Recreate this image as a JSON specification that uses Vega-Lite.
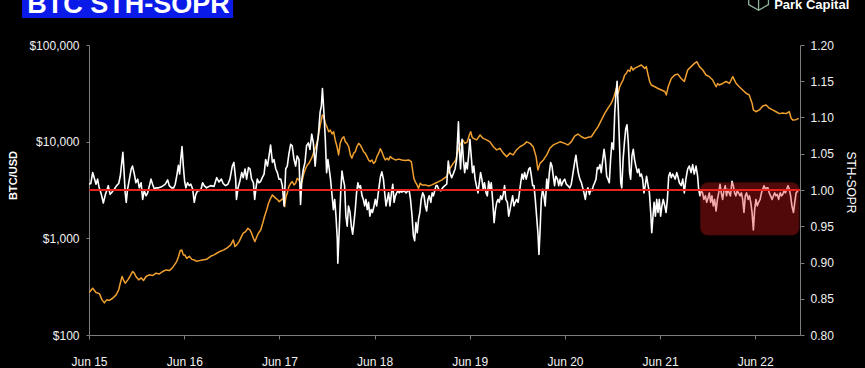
{
  "$schema": "https://vega.github.io/schema/vega-lite/v6.json",
  "background": "#000000",
  "autosize": {"type": "none"},
  "width": 711,
  "height": 290,
  "padding": {"left": 89, "top": 45, "right": 65, "bottom": 33},
  "config": {
    "view": {"stroke": null},
    "font": "Liberation Sans",
    "axis": {"labelColor": "#f2f2f2", "titleColor": "#ffffff", "domainColor": "#7d7d7d", "tickColor": "#7d7d7d", "grid": false, "labelFont": "Liberation Sans", "labelFontSize": 12, "titleFont": "Liberation Sans", "labelOverlap": false}
  },
  "datasets": {
    "hdr": [{"title": "BTC STH-SOPR", "brand": "Park Capital"}],
    "ref": [{"level": 1.0}],
    "box": [{"start": "2021-11-04", "end": "2022-11-16", "lo": 0.938, "hi": 1.01}],
    "btc": [
      {"date":"2015-06-01","price":275},{"date":"2015-06-05","price":282},{"date":"2015-06-15","price":305},{"date":"2015-06-28","price":275},{"date":"2015-07-11","price":268},{"date":"2015-07-21","price":231},{"date":"2015-07-30","price":215},{"date":"2015-08-08","price":231},{"date":"2015-08-18","price":228},{"date":"2015-08-31","price":240},{"date":"2015-09-13","price":260},{"date":"2015-09-23","price":293},{"date":"2015-09-29","price":343},{"date":"2015-10-06","price":403},{"date":"2015-10-11","price":372},{"date":"2015-10-18","price":343},{"date":"2015-10-28","price":372},{"date":"2015-11-05","price":403},{"date":"2015-11-16","price":454},{"date":"2015-11-22","price":436},{"date":"2015-11-28","price":403},{"date":"2015-12-09","price":372},{"date":"2015-12-18","price":390},{"date":"2015-12-27","price":366},
      {"date":"2016-01-06","price":403},{"date":"2016-01-18","price":419},{"date":"2016-01-31","price":412},{"date":"2016-02-13","price":436},{"date":"2016-02-26","price":428},{"date":"2016-03-10","price":454},{"date":"2016-03-23","price":471},{"date":"2016-04-04","price":464},{"date":"2016-04-15","price":492},{"date":"2016-04-24","price":531},{"date":"2016-05-03","price":578},{"date":"2016-05-10","price":652},{"date":"2016-05-16","price":744},{"date":"2016-05-22","price":759},{"date":"2016-05-28","price":674},{"date":"2016-06-03","price":674},{"date":"2016-06-10","price":620},{"date":"2016-06-20","price":652},{"date":"2016-06-30","price":606},{"date":"2016-07-09","price":598},{"date":"2016-07-18","price":578},{"date":"2016-07-28","price":588},{"date":"2016-08-10","price":598},{"date":"2016-08-25","price":606},{"date":"2016-09-10","price":652},{"date":"2016-09-23","price":674},{"date":"2016-10-05","price":705},{"date":"2016-10-18","price":736},{"date":"2016-10-31","price":759},{"date":"2016-11-12","price":795},{"date":"2016-11-26","price":855},{"date":"2016-12-06","price":963},{"date":"2016-12-12","price":822},{"date":"2016-12-19","price":855},{"date":"2016-12-28","price":925},
      {"date":"2017-01-06","price":1040},{"date":"2017-01-13","price":1130},{"date":"2017-01-22","price":1175},{"date":"2017-01-31","price":1270},{"date":"2017-02-08","price":1220},{"date":"2017-02-14","price":1130},{"date":"2017-02-21","price":1000},{"date":"2017-02-27","price":925},{"date":"2017-03-06","price":1040},{"date":"2017-03-12","price":1130},{"date":"2017-03-21","price":1220},{"date":"2017-03-29","price":1440},{"date":"2017-04-05","price":1690},{"date":"2017-04-13","price":1970},{"date":"2017-04-20","price":2310},{"date":"2017-04-28","price":2590},{"date":"2017-05-05","price":2810},{"date":"2017-05-11","price":2700},{"date":"2017-05-18","price":2590},{"date":"2017-05-24","price":2530},{"date":"2017-05-31","price":2390},{"date":"2017-06-08","price":2500},{"date":"2017-06-16","price":2590},{"date":"2017-06-21","price":2130},{"date":"2017-06-26","price":2700},{"date":"2017-07-01","price":2920},{"date":"2017-07-07","price":3420},{"date":"2017-07-14","price":3710},{"date":"2017-07-20","price":3860},{"date":"2017-07-27","price":3570},{"date":"2017-08-02","price":3710},{"date":"2017-08-08","price":4170},{"date":"2017-08-15","price":4020},{"date":"2017-08-22","price":3570},{"date":"2017-08-28","price":4020},{"date":"2017-09-03","price":4720},{"date":"2017-09-10","price":5310},{"date":"2017-09-16","price":5740},{"date":"2017-09-22","price":5960},{"date":"2017-09-29","price":6470},{"date":"2017-10-05","price":7000},{"date":"2017-10-11","price":7870},{"date":"2017-10-18","price":8860},{"date":"2017-10-24","price":9960},{"date":"2017-10-31","price":12680},{"date":"2017-11-06","price":15500},{"date":"2017-11-13","price":18900},{"date":"2017-11-18","price":18240},{"date":"2017-11-24","price":15500},{"date":"2017-11-30","price":14300},{"date":"2017-12-07","price":12680},{"date":"2017-12-13","price":13220},{"date":"2017-12-20","price":12000},{"date":"2017-12-26","price":12680},
      {"date":"2018-01-01","price":10420},{"date":"2018-01-08","price":8860},{"date":"2018-01-14","price":7290},{"date":"2018-01-20","price":9600},{"date":"2018-01-27","price":10800},{"date":"2018-02-03","price":11250},{"date":"2018-02-09","price":9960},{"date":"2018-02-15","price":9600},{"date":"2018-02-22","price":8860},{"date":"2018-02-28","price":7290},{"date":"2018-03-06","price":6750},{"date":"2018-03-13","price":7610},{"date":"2018-03-19","price":7870},{"date":"2018-03-25","price":8860},{"date":"2018-04-01","price":9600},{"date":"2018-04-07","price":9250},{"date":"2018-04-14","price":8540},{"date":"2018-04-20","price":7870},{"date":"2018-04-26","price":7610},{"date":"2018-05-03","price":7000},{"date":"2018-05-09","price":6470},{"date":"2018-05-15","price":6220},{"date":"2018-05-22","price":6470},{"date":"2018-05-28","price":5960},{"date":"2018-06-04","price":6220},{"date":"2018-06-10","price":7000},{"date":"2018-06-17","price":7610},{"date":"2018-06-23","price":8440},{"date":"2018-06-29","price":7870},{"date":"2018-07-06","price":7000},{"date":"2018-07-12","price":6470},{"date":"2018-07-19","price":6750},{"date":"2018-07-25","price":6470},{"date":"2018-07-31","price":7000},{"date":"2018-08-07","price":6750},{"date":"2018-08-20","price":6470},{"date":"2018-09-02","price":6600},{"date":"2018-09-14","price":6470},{"date":"2018-09-27","price":6400},{"date":"2018-10-10","price":6470},{"date":"2018-10-20","price":6220},{"date":"2018-10-25","price":5100},{"date":"2018-10-30","price":4170},{"date":"2018-11-04","price":3860},{"date":"2018-11-11","price":3570},{"date":"2018-11-17","price":3290},{"date":"2018-11-23","price":3710},{"date":"2018-11-30","price":3570},{"date":"2018-12-13","price":3570},{"date":"2018-12-26","price":3480},
      {"date":"2019-01-07","price":3570},{"date":"2019-01-20","price":3710},{"date":"2019-02-02","price":3860},{"date":"2019-02-15","price":4020},{"date":"2019-03-05","price":4380},{"date":"2019-03-18","price":5310},{"date":"2019-03-30","price":5960},{"date":"2019-04-09","price":6470},{"date":"2019-04-18","price":8210},{"date":"2019-04-28","price":9600},{"date":"2019-05-05","price":10420},{"date":"2019-05-14","price":9600},{"date":"2019-05-23","price":9960},{"date":"2019-05-31","price":11730},{"date":"2019-06-05","price":12680},{"date":"2019-06-10","price":11250},{"date":"2019-06-15","price":10800},{"date":"2019-06-28","price":10420},{"date":"2019-07-11","price":11730},{"date":"2019-07-23","price":10800},{"date":"2019-08-05","price":10420},{"date":"2019-08-18","price":9960},{"date":"2019-08-31","price":8860},{"date":"2019-09-13","price":8210},{"date":"2019-09-25","price":8540},{"date":"2019-10-08","price":7610},{"date":"2019-10-21","price":7000},{"date":"2019-11-03","price":7610},{"date":"2019-11-15","price":7290},{"date":"2019-11-28","price":8210},{"date":"2019-12-11","price":8860},{"date":"2019-12-24","price":9250},
      {"date":"2020-01-06","price":9960},{"date":"2020-01-19","price":9600},{"date":"2020-01-31","price":8860},{"date":"2020-02-11","price":7000},{"date":"2020-02-18","price":5100},{"date":"2020-02-26","price":5960},{"date":"2020-03-10","price":6470},{"date":"2020-03-23","price":7290},{"date":"2020-04-04","price":8540},{"date":"2020-04-17","price":9250},{"date":"2020-04-30","price":9600},{"date":"2020-05-13","price":9960},{"date":"2020-05-31","price":9600},{"date":"2020-06-12","price":9250},{"date":"2020-06-25","price":9960},{"date":"2020-07-08","price":11400},{"date":"2020-07-21","price":12000},{"date":"2020-08-03","price":11250},{"date":"2020-08-16","price":10800},{"date":"2020-08-29","price":11100},{"date":"2020-09-10","price":11250},{"date":"2020-09-23","price":12680},{"date":"2020-10-06","price":14300},{"date":"2020-10-19","price":16770},{"date":"2020-10-31","price":19500},{"date":"2020-11-13","price":22200},{"date":"2020-11-26","price":25000},{"date":"2020-12-06","price":29300},{"date":"2020-12-15","price":35500},{"date":"2020-12-22","price":31700},{"date":"2020-12-28","price":37000},
      {"date":"2021-01-03","price":40000},{"date":"2021-01-10","price":43470},{"date":"2021-01-16","price":48950},{"date":"2021-01-22","price":50700},{"date":"2021-01-29","price":55100},{"date":"2021-02-05","price":53200},{"date":"2021-02-10","price":59700},{"date":"2021-02-17","price":55100},{"date":"2021-02-23","price":57300},{"date":"2021-03-08","price":59700},{"date":"2021-03-21","price":62130},{"date":"2021-04-03","price":57300},{"date":"2021-04-09","price":59700},{"date":"2021-04-16","price":48950},{"date":"2021-04-22","price":41900},{"date":"2021-04-28","price":38580},{"date":"2021-05-12","price":37000},{"date":"2021-05-24","price":35500},{"date":"2021-06-06","price":34270},{"date":"2021-06-19","price":33000},{"date":"2021-06-25","price":30420},{"date":"2021-07-02","price":37000},{"date":"2021-07-14","price":45100},{"date":"2021-07-27","price":48950},{"date":"2021-08-08","price":50000},{"date":"2021-08-21","price":45100},{"date":"2021-09-02","price":41900},{"date":"2021-09-15","price":55100},{"date":"2021-09-28","price":59700},{"date":"2021-10-11","price":64600},{"date":"2021-10-20","price":67200},{"date":"2021-10-30","price":59700},{"date":"2021-11-12","price":55100},{"date":"2021-11-24","price":48950},{"date":"2021-12-07","price":47000},{"date":"2021-12-20","price":43470},
      {"date":"2022-01-02","price":37000},{"date":"2022-01-08","price":40000},{"date":"2022-01-14","price":38580},{"date":"2022-01-27","price":40000},{"date":"2022-02-09","price":41900},{"date":"2022-02-22","price":40000},{"date":"2022-03-07","price":47000},{"date":"2022-03-20","price":40000},{"date":"2022-04-01","price":37000},{"date":"2022-04-14","price":34270},{"date":"2022-04-27","price":31700},{"date":"2022-05-09","price":30420},{"date":"2022-05-20","price":25000},{"date":"2022-05-25","price":21290},{"date":"2022-06-04","price":20400},{"date":"2022-06-17","price":21290},{"date":"2022-06-30","price":23400},{"date":"2022-07-13","price":23980},{"date":"2022-07-25","price":22200},{"date":"2022-08-07","price":21290},{"date":"2022-08-20","price":20400},{"date":"2022-09-02","price":19500},{"date":"2022-09-15","price":19800},{"date":"2022-09-27","price":19500},{"date":"2022-10-10","price":20400},{"date":"2022-10-17","price":17500},{"date":"2022-10-23","price":16770},{"date":"2022-11-05","price":16900},{"date":"2022-11-15","price":17400}
    ],
    "sopr": [
      {"date":"2015-06-01","sopr":1.008},{"date":"2015-06-08","sopr":1.009},{"date":"2015-06-15","sopr":1.024},{"date":"2015-06-21","sopr":1.017},{"date":"2015-06-28","sopr":1.008},{"date":"2015-07-04","sopr":1.015},{"date":"2015-07-10","sopr":1.003},{"date":"2015-07-17","sopr":0.996},{"date":"2015-07-26","sopr":0.982},{"date":"2015-08-03","sopr":0.994},{"date":"2015-08-08","sopr":0.999},{"date":"2015-08-14","sopr":1.006},{"date":"2015-08-21","sopr":0.994},{"date":"2015-08-28","sopr":0.997},{"date":"2015-09-06","sopr":1.001},{"date":"2015-09-15","sopr":1.006},{"date":"2015-09-23","sopr":1.009},{"date":"2015-09-29","sopr":1.019},{"date":"2015-10-06","sopr":1.042},{"date":"2015-10-09","sopr":1.052},{"date":"2015-10-13","sopr":1.029},{"date":"2015-10-18","sopr":0.996},{"date":"2015-10-22","sopr":0.983},{"date":"2015-10-27","sopr":1.001},{"date":"2015-11-03","sopr":1.015},{"date":"2015-11-10","sopr":1.029},{"date":"2015-11-15","sopr":1.033},{"date":"2015-11-22","sopr":1.022},{"date":"2015-11-28","sopr":1.01},{"date":"2015-12-05","sopr":1.015},{"date":"2015-12-11","sopr":1.003},{"date":"2015-12-18","sopr":1.01},{"date":"2015-12-24","sopr":0.987},{"date":"2015-12-30","sopr":0.999},
      {"date":"2016-01-06","sopr":0.992},{"date":"2016-01-12","sopr":0.996},{"date":"2016-01-19","sopr":1.006},{"date":"2016-01-25","sopr":1.015},{"date":"2016-01-31","sopr":1.008},{"date":"2016-02-07","sopr":1.001},{"date":"2016-02-13","sopr":1.003},{"date":"2016-02-23","sopr":1.003},{"date":"2016-03-03","sopr":1.004},{"date":"2016-03-12","sopr":1.006},{"date":"2016-03-20","sopr":1.008},{"date":"2016-03-29","sopr":1.014},{"date":"2016-04-04","sopr":1.006},{"date":"2016-04-13","sopr":1.003},{"date":"2016-04-21","sopr":1.003},{"date":"2016-04-27","sopr":1.008},{"date":"2016-05-04","sopr":1.022},{"date":"2016-05-09","sopr":1.034},{"date":"2016-05-14","sopr":1.022},{"date":"2016-05-18","sopr":1.042},{"date":"2016-05-23","sopr":1.06},{"date":"2016-05-28","sopr":1.033},{"date":"2016-06-02","sopr":1.012},{"date":"2016-06-07","sopr":1.003},{"date":"2016-06-13","sopr":1.01},{"date":"2016-06-20","sopr":1.006},{"date":"2016-06-26","sopr":1.008},{"date":"2016-07-03","sopr":1.001},{"date":"2016-07-09","sopr":0.983},{"date":"2016-07-15","sopr":0.994},{"date":"2016-07-22","sopr":0.999},{"date":"2016-07-28","sopr":0.999},{"date":"2016-08-04","sopr":1.001},{"date":"2016-08-10","sopr":1.01},{"date":"2016-08-16","sopr":1.006},{"date":"2016-08-25","sopr":1.003},{"date":"2016-09-10","sopr":1.006},{"date":"2016-09-23","sopr":1.005},{"date":"2016-10-03","sopr":1.017},{"date":"2016-10-12","sopr":1.011},{"date":"2016-10-21","sopr":1.015},{"date":"2016-10-28","sopr":1.009},{"date":"2016-11-06","sopr":1.006},{"date":"2016-11-15","sopr":1.008},{"date":"2016-11-23","sopr":1.015},{"date":"2016-12-02","sopr":1.033},{"date":"2016-12-08","sopr":1.038},{"date":"2016-12-15","sopr":1.015},{"date":"2016-12-18","sopr":0.987},{"date":"2016-12-24","sopr":1.003},{"date":"2016-12-31","sopr":1.012},
      {"date":"2017-01-07","sopr":1.024},{"date":"2017-01-13","sopr":1.017},{"date":"2017-01-20","sopr":1.029},{"date":"2017-01-26","sopr":1.015},{"date":"2017-02-02","sopr":1.031},{"date":"2017-02-08","sopr":1.029},{"date":"2017-02-14","sopr":1.015},{"date":"2017-02-21","sopr":1.01},{"date":"2017-02-26","sopr":0.987},{"date":"2017-03-03","sopr":1.003},{"date":"2017-03-08","sopr":1.015},{"date":"2017-03-14","sopr":1.01},{"date":"2017-03-21","sopr":1.012},{"date":"2017-03-27","sopr":1.017},{"date":"2017-04-03","sopr":1.022},{"date":"2017-04-09","sopr":1.042},{"date":"2017-04-16","sopr":1.033},{"date":"2017-04-22","sopr":1.047},{"date":"2017-04-28","sopr":1.062},{"date":"2017-05-05","sopr":1.038},{"date":"2017-05-11","sopr":1.042},{"date":"2017-05-18","sopr":1.029},{"date":"2017-05-24","sopr":1.024},{"date":"2017-05-30","sopr":1.015},{"date":"2017-06-06","sopr":1.015},{"date":"2017-06-12","sopr":1.006},{"date":"2017-06-19","sopr":0.978},{"date":"2017-06-25","sopr":1.029},{"date":"2017-07-01","sopr":1.033},{"date":"2017-07-07","sopr":1.049},{"date":"2017-07-14","sopr":1.063},{"date":"2017-07-20","sopr":1.061},{"date":"2017-07-27","sopr":1.042},{"date":"2017-08-02","sopr":1.033},{"date":"2017-08-08","sopr":1.047},{"date":"2017-08-15","sopr":1.042},{"date":"2017-08-21","sopr":0.98},{"date":"2017-08-26","sopr":1.015},{"date":"2017-09-01","sopr":1.029},{"date":"2017-09-07","sopr":1.038},{"date":"2017-09-13","sopr":1.061},{"date":"2017-09-20","sopr":1.065},{"date":"2017-09-26","sopr":1.056},{"date":"2017-10-03","sopr":1.077},{"date":"2017-10-09","sopr":1.065},{"date":"2017-10-16","sopr":1.033},{"date":"2017-10-22","sopr":1.058},{"date":"2017-10-28","sopr":1.074},{"date":"2017-11-04","sopr":1.107},{"date":"2017-11-09","sopr":1.116},{"date":"2017-11-13","sopr":1.14},{"date":"2017-11-18","sopr":1.111},{"date":"2017-11-24","sopr":1.07},{"date":"2017-11-29","sopr":1.024},{"date":"2017-12-04","sopr":1.042},{"date":"2017-12-09","sopr":1.029},{"date":"2017-12-14","sopr":1.015},{"date":"2017-12-19","sopr":0.996},{"date":"2017-12-25","sopr":0.973},{"date":"2017-12-30","sopr":0.987},
      {"date":"2018-01-04","sopr":0.964},{"date":"2018-01-09","sopr":0.932},{"date":"2018-01-11","sopr":0.899},{"date":"2018-01-17","sopr":0.95},{"date":"2018-01-22","sopr":0.996},{"date":"2018-01-27","sopr":1.026},{"date":"2018-02-01","sopr":1.015},{"date":"2018-02-06","sopr":1.006},{"date":"2018-02-11","sopr":0.964},{"date":"2018-02-16","sopr":0.95},{"date":"2018-02-21","sopr":0.978},{"date":"2018-02-27","sopr":0.969},{"date":"2018-03-04","sopr":0.95},{"date":"2018-03-09","sopr":0.939},{"date":"2018-03-14","sopr":0.955},{"date":"2018-03-19","sopr":0.973},{"date":"2018-03-24","sopr":0.996},{"date":"2018-03-29","sopr":1.01},{"date":"2018-04-03","sopr":1.003},{"date":"2018-04-08","sopr":1.006},{"date":"2018-04-14","sopr":0.992},{"date":"2018-04-19","sopr":0.987},{"date":"2018-04-24","sopr":0.978},{"date":"2018-04-29","sopr":0.987},{"date":"2018-05-04","sopr":0.973},{"date":"2018-05-09","sopr":0.983},{"date":"2018-05-14","sopr":0.964},{"date":"2018-05-19","sopr":0.973},{"date":"2018-05-24","sopr":0.969},{"date":"2018-05-30","sopr":0.978},{"date":"2018-06-04","sopr":0.987},{"date":"2018-06-09","sopr":0.978},{"date":"2018-06-14","sopr":0.992},{"date":"2018-06-19","sopr":1.006},{"date":"2018-06-24","sopr":1.019},{"date":"2018-06-29","sopr":1.025},{"date":"2018-07-05","sopr":1.015},{"date":"2018-07-10","sopr":0.996},{"date":"2018-07-15","sopr":0.978},{"date":"2018-07-20","sopr":0.987},{"date":"2018-07-25","sopr":0.996},{"date":"2018-07-30","sopr":0.978},{"date":"2018-08-05","sopr":0.996},{"date":"2018-08-10","sopr":1.008},{"date":"2018-08-15","sopr":0.983},{"date":"2018-08-20","sopr":0.992},{"date":"2018-08-25","sopr":0.996},{"date":"2018-08-30","sopr":0.999},{"date":"2018-09-04","sopr":0.996},{"date":"2018-09-09","sopr":0.999},{"date":"2018-09-14","sopr":0.997},{"date":"2018-09-22","sopr":0.999},{"date":"2018-09-30","sopr":0.996},{"date":"2018-10-07","sopr":0.999},{"date":"2018-10-12","sopr":0.999},{"date":"2018-10-17","sopr":0.987},{"date":"2018-10-23","sopr":0.964},{"date":"2018-10-28","sopr":0.937},{"date":"2018-11-02","sopr":0.93},{"date":"2018-11-07","sopr":0.955},{"date":"2018-11-12","sopr":0.941},{"date":"2018-11-17","sopr":0.96},{"date":"2018-11-22","sopr":0.969},{"date":"2018-11-27","sopr":0.987},{"date":"2018-12-03","sopr":0.996},{"date":"2018-12-08","sopr":0.992},{"date":"2018-12-13","sopr":0.978},{"date":"2018-12-18","sopr":0.971},{"date":"2018-12-23","sopr":0.987},{"date":"2018-12-28","sopr":0.992},
      {"date":"2019-01-03","sopr":0.983},{"date":"2019-01-08","sopr":0.996},{"date":"2019-01-13","sopr":0.992},{"date":"2019-01-18","sopr":0.999},{"date":"2019-01-23","sopr":1.006},{"date":"2019-01-28","sopr":1.006},{"date":"2019-02-02","sopr":1.001},{"date":"2019-02-10","sopr":0.999},{"date":"2019-02-17","sopr":1.003},{"date":"2019-02-26","sopr":1.006},{"date":"2019-03-05","sopr":1.008},{"date":"2019-03-11","sopr":1.04},{"date":"2019-03-17","sopr":1.024},{"date":"2019-03-24","sopr":1.017},{"date":"2019-03-30","sopr":1.022},{"date":"2019-04-06","sopr":1.029},{"date":"2019-04-12","sopr":1.042},{"date":"2019-04-19","sopr":1.094},{"date":"2019-04-22","sopr":1.061},{"date":"2019-04-27","sopr":1.029},{"date":"2019-05-03","sopr":1.07},{"date":"2019-05-08","sopr":1.042},{"date":"2019-05-13","sopr":1.024},{"date":"2019-05-18","sopr":1.038},{"date":"2019-05-23","sopr":1.029},{"date":"2019-05-28","sopr":1.047},{"date":"2019-06-02","sopr":1.07},{"date":"2019-06-07","sopr":1.047},{"date":"2019-06-12","sopr":1.024},{"date":"2019-06-17","sopr":1.033},{"date":"2019-06-22","sopr":1.015},{"date":"2019-06-27","sopr":1.006},{"date":"2019-07-03","sopr":0.996},{"date":"2019-07-08","sopr":1.01},{"date":"2019-07-13","sopr":1.024},{"date":"2019-07-18","sopr":1.015},{"date":"2019-07-23","sopr":1.001},{"date":"2019-07-28","sopr":1.01},{"date":"2019-08-03","sopr":0.996},{"date":"2019-08-08","sopr":0.992},{"date":"2019-08-13","sopr":1.012},{"date":"2019-08-18","sopr":1.001},{"date":"2019-08-23","sopr":1.01},{"date":"2019-08-28","sopr":0.987},{"date":"2019-09-03","sopr":0.955},{"date":"2019-09-08","sopr":0.973},{"date":"2019-09-13","sopr":0.983},{"date":"2019-09-18","sopr":0.987},{"date":"2019-09-23","sopr":0.983},{"date":"2019-09-28","sopr":0.992},{"date":"2019-10-03","sopr":0.987},{"date":"2019-10-08","sopr":0.994},{"date":"2019-10-13","sopr":1.006},{"date":"2019-10-18","sopr":0.987},{"date":"2019-10-24","sopr":0.983},{"date":"2019-10-29","sopr":0.964},{"date":"2019-11-03","sopr":0.973},{"date":"2019-11-08","sopr":0.983},{"date":"2019-11-13","sopr":0.992},{"date":"2019-11-18","sopr":0.978},{"date":"2019-11-23","sopr":0.983},{"date":"2019-11-28","sopr":0.987},{"date":"2019-12-04","sopr":0.983},{"date":"2019-12-09","sopr":0.996},{"date":"2019-12-14","sopr":1.01},{"date":"2019-12-19","sopr":1.022},{"date":"2019-12-24","sopr":1.015},{"date":"2019-12-29","sopr":1.024},
      {"date":"2020-01-04","sopr":1.015},{"date":"2020-01-09","sopr":1.022},{"date":"2020-01-14","sopr":1.029},{"date":"2020-01-19","sopr":1.031},{"date":"2020-01-24","sopr":1.019},{"date":"2020-01-29","sopr":1.006},{"date":"2020-02-03","sopr":1.006},{"date":"2020-02-08","sopr":0.987},{"date":"2020-02-13","sopr":0.964},{"date":"2020-02-18","sopr":0.941},{"date":"2020-02-22","sopr":0.911},{"date":"2020-02-26","sopr":0.941},{"date":"2020-03-02","sopr":0.987},{"date":"2020-03-07","sopr":1.001},{"date":"2020-03-12","sopr":0.992},{"date":"2020-03-17","sopr":0.978},{"date":"2020-03-23","sopr":1.015},{"date":"2020-03-28","sopr":1.001},{"date":"2020-04-02","sopr":1.024},{"date":"2020-04-07","sopr":1.038},{"date":"2020-04-12","sopr":1.033},{"date":"2020-04-17","sopr":1.019},{"date":"2020-04-22","sopr":1.006},{"date":"2020-04-27","sopr":1.019},{"date":"2020-05-03","sopr":1.015},{"date":"2020-05-08","sopr":1.006},{"date":"2020-05-13","sopr":1.015},{"date":"2020-05-18","sopr":1.006},{"date":"2020-05-25","sopr":1.012},{"date":"2020-05-31","sopr":1.015},{"date":"2020-06-06","sopr":1.008},{"date":"2020-06-12","sopr":1.006},{"date":"2020-06-19","sopr":1.003},{"date":"2020-06-25","sopr":1.008},{"date":"2020-07-02","sopr":1.024},{"date":"2020-07-08","sopr":1.038},{"date":"2020-07-13","sopr":1.048},{"date":"2020-07-18","sopr":1.033},{"date":"2020-07-23","sopr":1.022},{"date":"2020-07-28","sopr":1.015},{"date":"2020-08-03","sopr":1.01},{"date":"2020-08-08","sopr":1.003},{"date":"2020-08-13","sopr":0.996},{"date":"2020-08-18","sopr":0.987},{"date":"2020-08-23","sopr":0.999},{"date":"2020-08-28","sopr":1.003},{"date":"2020-09-03","sopr":0.994},{"date":"2020-09-08","sopr":1.001},{"date":"2020-09-13","sopr":0.999},{"date":"2020-09-18","sopr":1.006},{"date":"2020-09-23","sopr":1.01},{"date":"2020-09-28","sopr":1.015},{"date":"2020-10-03","sopr":1.031},{"date":"2020-10-08","sopr":1.029},{"date":"2020-10-13","sopr":1.035},{"date":"2020-10-18","sopr":1.024},{"date":"2020-10-24","sopr":1.042},{"date":"2020-10-29","sopr":1.056},{"date":"2020-11-03","sopr":1.042},{"date":"2020-11-08","sopr":1.019},{"date":"2020-11-13","sopr":1.015},{"date":"2020-11-18","sopr":1.01},{"date":"2020-11-23","sopr":1.042},{"date":"2020-11-28","sopr":1.065},{"date":"2020-12-04","sopr":1.056},{"date":"2020-12-09","sopr":1.107},{"date":"2020-12-14","sopr":1.134},{"date":"2020-12-18","sopr":1.15},{"date":"2020-12-22","sopr":1.116},{"date":"2020-12-27","sopr":1.065},
      {"date":"2021-01-01","sopr":1.01},{"date":"2021-01-05","sopr":1.003},{"date":"2021-01-10","sopr":1.042},{"date":"2021-01-15","sopr":1.065},{"date":"2021-01-20","sopr":1.084},{"date":"2021-01-25","sopr":1.09},{"date":"2021-01-30","sopr":1.065},{"date":"2021-02-04","sopr":1.024},{"date":"2021-02-08","sopr":1.015},{"date":"2021-02-13","sopr":1.047},{"date":"2021-02-18","sopr":1.056},{"date":"2021-02-23","sopr":1.042},{"date":"2021-02-28","sopr":1.033},{"date":"2021-03-06","sopr":1.024},{"date":"2021-03-11","sopr":1.029},{"date":"2021-03-16","sopr":1.019},{"date":"2021-03-21","sopr":1.022},{"date":"2021-03-26","sopr":1.015},{"date":"2021-03-31","sopr":0.996},{"date":"2021-04-05","sopr":1.006},{"date":"2021-04-10","sopr":1.019},{"date":"2021-04-16","sopr":1.006},{"date":"2021-04-21","sopr":0.996},{"date":"2021-04-26","sopr":0.969},{"date":"2021-04-30","sopr":0.941},{"date":"2021-05-04","sopr":0.96},{"date":"2021-05-09","sopr":0.983},{"date":"2021-05-14","sopr":0.964},{"date":"2021-05-19","sopr":0.987},{"date":"2021-05-24","sopr":0.969},{"date":"2021-05-29","sopr":0.987},{"date":"2021-06-03","sopr":0.964},{"date":"2021-06-08","sopr":0.978},{"date":"2021-06-13","sopr":0.987},{"date":"2021-06-19","sopr":0.978},{"date":"2021-06-24","sopr":0.969},{"date":"2021-06-29","sopr":0.987},{"date":"2021-07-04","sopr":1.019},{"date":"2021-07-09","sopr":1.024},{"date":"2021-07-14","sopr":1.017},{"date":"2021-07-19","sopr":1.022},{"date":"2021-07-24","sopr":1.019},{"date":"2021-07-29","sopr":1.015},{"date":"2021-08-04","sopr":1.024},{"date":"2021-08-08","sopr":1.019},{"date":"2021-08-14","sopr":1.01},{"date":"2021-08-21","sopr":1.006},{"date":"2021-08-27","sopr":1.015},{"date":"2021-09-02","sopr":0.996},{"date":"2021-09-08","sopr":1.015},{"date":"2021-09-15","sopr":1.029},{"date":"2021-09-21","sopr":1.033},{"date":"2021-09-28","sopr":1.024},{"date":"2021-10-04","sopr":1.035},{"date":"2021-10-10","sopr":1.022},{"date":"2021-10-17","sopr":1.033},{"date":"2021-10-23","sopr":1.019},{"date":"2021-10-27","sopr":1.001},{"date":"2021-11-01","sopr":0.992},{"date":"2021-11-06","sopr":0.999},{"date":"2021-11-11","sopr":0.996},{"date":"2021-11-16","sopr":0.987},{"date":"2021-11-22","sopr":0.992},{"date":"2021-11-27","sopr":0.983},{"date":"2021-12-02","sopr":0.989},{"date":"2021-12-07","sopr":0.996},{"date":"2021-12-12","sopr":0.983},{"date":"2021-12-17","sopr":0.992},{"date":"2021-12-22","sopr":0.978},{"date":"2021-12-27","sopr":0.987},
      {"date":"2022-01-02","sopr":0.971},{"date":"2022-01-07","sopr":0.987},{"date":"2022-01-12","sopr":0.996},{"date":"2022-01-17","sopr":1.008},{"date":"2022-01-22","sopr":0.996},{"date":"2022-01-27","sopr":0.987},{"date":"2022-02-01","sopr":0.999},{"date":"2022-02-06","sopr":1.006},{"date":"2022-02-11","sopr":0.992},{"date":"2022-02-16","sopr":1.001},{"date":"2022-02-21","sopr":0.996},{"date":"2022-02-26","sopr":0.992},{"date":"2022-03-04","sopr":1.012},{"date":"2022-03-09","sopr":1.006},{"date":"2022-03-14","sopr":0.996},{"date":"2022-03-19","sopr":0.992},{"date":"2022-03-24","sopr":0.999},{"date":"2022-03-29","sopr":0.996},{"date":"2022-04-04","sopr":0.992},{"date":"2022-04-09","sopr":0.996},{"date":"2022-04-14","sopr":0.987},{"date":"2022-04-19","sopr":0.969},{"date":"2022-04-24","sopr":0.992},{"date":"2022-04-29","sopr":0.996},{"date":"2022-05-05","sopr":0.987},{"date":"2022-05-10","sopr":0.992},{"date":"2022-05-15","sopr":0.983},{"date":"2022-05-20","sopr":0.969},{"date":"2022-05-25","sopr":0.945},{"date":"2022-05-30","sopr":0.973},{"date":"2022-06-04","sopr":0.987},{"date":"2022-06-09","sopr":0.978},{"date":"2022-06-14","sopr":0.983},{"date":"2022-06-20","sopr":0.987},{"date":"2022-06-25","sopr":0.996},{"date":"2022-06-30","sopr":1.001},{"date":"2022-07-05","sopr":1.006},{"date":"2022-07-10","sopr":1.001},{"date":"2022-07-15","sopr":1.003},{"date":"2022-07-20","sopr":1.003},{"date":"2022-07-25","sopr":0.996},{"date":"2022-07-30","sopr":0.992},{"date":"2022-08-05","sopr":0.987},{"date":"2022-08-10","sopr":0.992},{"date":"2022-08-15","sopr":0.996},{"date":"2022-08-20","sopr":0.992},{"date":"2022-08-25","sopr":0.994},{"date":"2022-08-30","sopr":0.987},{"date":"2022-09-05","sopr":0.996},{"date":"2022-09-10","sopr":0.992},{"date":"2022-09-15","sopr":0.994},{"date":"2022-09-20","sopr":0.999},{"date":"2022-09-25","sopr":0.996},{"date":"2022-09-30","sopr":1.001},{"date":"2022-10-05","sopr":1.006},{"date":"2022-10-10","sopr":1.001},{"date":"2022-10-15","sopr":0.992},{"date":"2022-10-20","sopr":0.978},{"date":"2022-10-26","sopr":0.969},{"date":"2022-10-31","sopr":0.983},{"date":"2022-11-05","sopr":0.996},{"date":"2022-11-12","sopr":0.999}
    ]
  },
  "layer": [
    {
      "layer": [
        {
          "data": {"name": "btc"},
          "mark": {"type": "line", "color": "#f0a030", "strokeWidth": 1.5, "strokeJoin": "round", "clip": true},
          "encoding": {
            "x": {
              "field": "date", "type": "temporal",
              "scale": {"domain": [{"year": 2015, "month": 6, "date": 1}, {"year": 2022, "month": 11, "date": 20}]},
              "axis": {
                "title": null, "format": "%b %y", "tickSize": 4, "labelPadding": 17, "labelFlush": false,
                "values": [{"year": 2015, "month": 6, "date": 1}, {"year": 2016, "month": 6, "date": 1}, {"year": 2017, "month": 6, "date": 1}, {"year": 2018, "month": 6, "date": 1}, {"year": 2019, "month": 6, "date": 1}, {"year": 2020, "month": 6, "date": 1}, {"year": 2021, "month": 6, "date": 1}, {"year": 2022, "month": 6, "date": 1}]
              }
            },
            "y": {
              "field": "price", "type": "quantitative",
              "scale": {"type": "log", "domain": [100, 100000]},
              "axis": {"title": "BTC/USD", "values": [100, 1000, 10000, 100000], "format": "$,.0f", "tickSize": 3, "labelPadding": 7, "titlePadding": 10, "titleFontSize": 11, "titleFontWeight": "bold", "titleY": 130, "labelFlush": false}
            }
          }
        },
        {
          "data": {"name": "hdr"},
          "mark": {"type": "rect", "color": "#0a1ae8", "clip": false},
          "encoding": {
            "x": {"datum": {"year": 2014, "month": 9, "date": 17}, "type": "temporal"},
            "x2": {"datum": {"year": 2016, "month": 12, "date": 5}},
            "y": {"datum": 190000, "type": "quantitative"},
            "y2": {"datum": 320000}
          }
        },
        {
          "data": {"name": "hdr"},
          "mark": {"type": "text", "font": "Liberation Sans", "fontSize": 27, "fontWeight": "bold", "color": "#ffffff", "align": "center", "baseline": "alphabetic", "clip": false},
          "encoding": {
            "x": {"datum": {"year": 2015, "month": 10, "date": 31}, "type": "temporal"},
            "y": {"datum": 214000, "type": "quantitative"},
            "text": {"field": "title"}
          }
        },
        {
          "data": {"name": "hdr"},
          "mark": {"type": "text", "font": "Liberation Sans", "fontSize": 13, "fontWeight": "bold", "color": "#ffffff", "align": "center", "baseline": "alphabetic", "clip": false},
          "encoding": {
            "x": {"datum": {"year": 2023, "month": 1, "date": 4}, "type": "temporal"},
            "y": {"datum": 238000, "type": "quantitative"},
            "text": {"field": "brand"}
          }
        },
        {
          "data": {"name": "hdr"},
          "mark": {"type": "point", "shape": "M0,-1L0.866,-0.5L0.866,0.5L0,1L-0.866,0.5L-0.866,-0.5ZM0,0L0,1M0,0L0.866,-0.5M0,0L-0.866,-0.5", "size": 520, "filled": false, "stroke": "#8fb39a", "strokeWidth": 1.3, "opacity": 1, "clip": false},
          "encoding": {
            "x": {"datum": {"year": 2022, "month": 6, "date": 14}, "type": "temporal"},
            "y": {"datum": 300000, "type": "quantitative"}
          }
        }
      ]
    },
    {
      "layer": [
        {
          "data": {"name": "sopr"},
          "mark": {"type": "line", "color": "#ffffff", "strokeWidth": 1.6, "strokeJoin": "round", "clip": true},
          "encoding": {
            "x": {"field": "date", "type": "temporal"},
            "y": {
              "field": "sopr", "type": "quantitative",
              "scale": {"domain": [0.8, 1.2]},
              "axis": {"orient": "right", "title": "STH-SOPR", "values": [0.8, 0.85, 0.9, 0.95, 1.0, 1.05, 1.1, 1.15, 1.2], "tickCount": 9, "format": ".2f", "tickSize": 4, "labelPadding": 6, "titlePadding": 10, "titleFontSize": 12, "titleFontWeight": "normal", "titleY": 137, "labelOverlap": false, "labelFlush": false, "labelSeparation": 0}
            }
          }
        },
        {
          "data": {"name": "box"},
          "mark": {"type": "rect", "color": "#e01a1a", "opacity": 0.36, "cornerRadius": 7, "stroke": "#c01818", "strokeWidth": 1.2, "strokeOpacity": 0.9},
          "encoding": {
            "x": {"field": "start", "type": "temporal"},
            "x2": {"field": "end"},
            "y": {"field": "lo", "type": "quantitative", "axis": {"orient": "right", "title": "STH-SOPR", "values": [0.8, 0.85, 0.9, 0.95, 1.0, 1.05, 1.1, 1.15, 1.2], "tickCount": 9, "format": ".2f", "tickSize": 4, "labelPadding": 6, "titlePadding": 10, "titleFontSize": 12, "titleFontWeight": "normal", "titleY": 137, "labelOverlap": false, "labelFlush": false, "labelSeparation": 0}},
            "y2": {"field": "hi"}
          }
        },
        {
          "data": {"name": "ref"},
          "mark": {"type": "rule", "color": "#e8231d", "strokeWidth": 1.8},
          "encoding": {
            "y": {"field": "level", "type": "quantitative", "axis": {"orient": "right", "title": "STH-SOPR", "values": [0.8, 0.85, 0.9, 0.95, 1.0, 1.05, 1.1, 1.15, 1.2], "tickCount": 9, "format": ".2f", "tickSize": 4, "labelPadding": 6, "titlePadding": 10, "titleFontSize": 12, "titleFontWeight": "normal", "titleY": 137, "labelOverlap": false, "labelFlush": false, "labelSeparation": 0}}
          }
        }
      ]
    }
  ],
  "resolve": {"scale": {"y": "independent"}}
}
